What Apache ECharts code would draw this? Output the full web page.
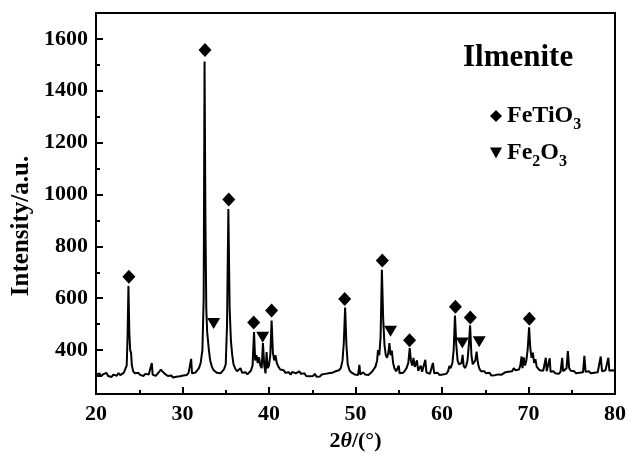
<!DOCTYPE html>
<html>
<head>
<meta charset="utf-8">
<script src="https://cdn.jsdelivr.net/npm/echarts@6/dist/echarts.min.js"></script>
<style>
	html, body { margin: 0; padding: 0; background: #fff; }
	#xrd_chart { width: 629px; height: 457px; }
</style>
</head>
<body>
<div id="xrd_chart"></div>
<script>
// diffraction pattern, [2theta, intensity]
var pattern = [
	[20.0,305],[20.2,300],[20.4,310],[20.6,298],[20.8,306],[21.0,302],[21.2,312],[21.4,300],[21.6,307],[21.8,296],
	[22.0,305],[22.2,309],[22.4,301],[22.6,311],[22.8,303],[23.0,308],[23.2,312],[23.4,318],[23.55,340],[23.65,450],
	[23.75,647],[23.85,470],[23.95,400],[24.05,390],[24.15,340],[24.3,318],[24.5,310],[24.7,306],[24.9,312],[25.1,304],
	[25.3,310],[25.5,300],[25.7,308],[25.9,302],[26.1,306],[26.3,303],[26.45,350],[26.55,305],[26.7,308],[26.9,300],
	[27.1,306],[27.3,316],[27.5,324],[27.7,318],[27.9,310],[28.1,304],[28.3,300],[28.5,296],[28.7,302],[28.9,294],
	[29.1,300],[29.3,297],[29.5,303],[29.7,299],[29.9,306],[30.1,302],[30.3,308],[30.5,304],[30.7,312],[30.9,306],
	[31.0,366],[31.1,310],[31.3,307],[31.5,313],[31.7,318],[31.9,330],[32.1,350],[32.3,400],[32.45,600],[32.55,1513],
	[32.65,900],[32.75,560],[32.85,470],[32.95,465],[33.05,400],[33.2,360],[33.4,335],[33.6,322],[33.8,318],[34.0,312],
	[34.2,316],[34.4,310],[34.6,318],[34.8,326],[35.0,345],[35.15,500],[35.3,944],[35.45,560],[35.6,434],[35.75,380],
	[35.9,345],[36.1,328],[36.3,318],[36.5,314],[36.7,330],[36.9,312],[37.1,308],[37.3,314],[37.5,306],[37.7,312],
	[37.9,320],[38.1,340],[38.27,469],[38.4,360],[38.55,380],[38.7,350],[38.85,372],[39.0,340],[39.15,330],[39.3,427],
	[39.45,340],[39.6,310],[39.72,392],[39.85,330],[40.0,340],[40.15,380],[40.3,514],[40.45,390],[40.6,360],[40.75,380],
	[40.9,350],[41.1,335],[41.3,325],[41.5,318],[41.7,322],[41.9,312],[42.1,308],[42.3,314],[42.5,305],[42.7,316],
	[42.9,322],[43.1,310],[43.3,304],[43.5,318],[43.7,308],[43.9,302],[44.1,310],[44.3,300],[44.5,306],[44.7,299],
	[44.9,305],[45.1,300],[45.3,308],[45.5,297],[45.7,304],[45.9,298],[46.1,306],[46.3,301],[46.5,308],[46.7,303],
	[46.9,310],[47.1,305],[47.3,312],[47.5,308],[47.7,318],[47.9,314],[48.1,322],[48.3,330],[48.5,360],[48.65,430],
	[48.8,564],[48.95,420],[49.1,345],[49.3,322],[49.5,314],[49.7,310],[49.9,306],[50.1,312],[50.3,304],[50.45,343],
	[50.55,306],[50.7,310],[50.9,314],[51.1,306],[51.3,312],[51.5,304],[51.7,310],[51.9,316],[52.1,320],[52.3,335],
	[52.5,360],[52.6,400],[52.75,380],[52.9,450],[53.05,710],[53.2,520],[53.35,420],[53.5,380],[53.65,370],[53.8,390],
	[53.92,427],[54.05,380],[54.2,398],[54.35,350],[54.5,330],[54.7,318],[54.9,312],[55.0,340],[55.1,310],[55.3,306],
	[55.5,312],[55.7,320],[55.9,330],[56.1,350],[56.27,407],[56.4,360],[56.55,340],[56.7,370],[56.85,335],[57.0,330],
	[57.1,360],[57.25,320],[57.4,326],[57.55,340],[57.7,316],[57.9,322],[58.07,362],[58.2,314],[58.4,318],[58.6,308],
	[58.8,315],[58.95,350],[59.1,310],[59.3,306],[59.5,312],[59.7,304],[59.9,310],[60.1,306],[60.3,312],[60.5,308],
	[60.7,318],[60.85,338],[61.0,330],[61.2,350],[61.35,400],[61.5,533],[61.65,420],[61.8,360],[61.95,345],[62.1,338],
	[62.25,350],[62.38,381],[62.5,340],[62.65,330],[62.8,340],[62.95,360],[63.1,420],[63.25,495],[63.4,380],[63.55,345],
	[63.7,340],[63.85,360],[64.0,394],[64.15,350],[64.3,330],[64.5,318],[64.7,312],[64.9,318],[65.1,310],[65.3,305],
	[65.5,312],[65.7,302],[65.9,309],[66.1,303],[66.3,310],[66.5,306],[66.7,312],[66.9,305],[67.1,309],[67.3,314],
	[67.5,310],[67.7,316],[67.9,320],[68.1,318],[68.3,330],[68.5,322],[68.7,318],[68.9,325],[69.05,340],[69.2,375],
	[69.3,330],[69.45,372],[69.6,340],[69.75,360],[69.9,400],[70.07,488],[70.2,410],[70.35,370],[70.5,390],[70.65,350],
	[70.8,365],[70.95,335],[71.1,328],[71.3,322],[71.5,316],[71.7,320],[71.85,318],[72.0,370],[72.1,318],[72.3,314],
	[72.45,368],[72.55,316],[72.7,312],[72.9,318],[73.1,310],[73.3,314],[73.5,308],[73.7,316],[73.9,370],[74.0,318],
	[74.2,312],[74.4,330],[74.55,396],[74.7,330],[74.9,320],[75.1,314],[75.3,318],[75.5,310],[75.7,316],[75.9,312],
	[76.1,318],[76.3,314],[76.46,378],[76.6,316],[76.8,312],[77.0,318],[77.2,310],[77.4,316],[77.6,312],[77.8,318],
	[78.0,314],[78.2,320],[78.35,375],[78.5,318],[78.7,314],[78.9,322],[79.1,318],[79.23,370],[79.35,320],[79.5,316],
	[79.7,322],[79.9,318],[80.0,320]
];

// phase markers
var fetio3Marks = [[23.8,683],[32.6,1557],[35.35,981],[38.23,506],[40.3,552],[48.75,597],[53.1,745],[56.25,438],[61.55,567],[63.27,525],[70.1,521]];
var fe2o3Marks = [[33.6,502],[39.27,449],[54.05,472],[62.35,427],[64.3,432]];

var yMajorTicks = [400, 600, 800, 1000, 1200, 1400, 1600];
var yMinorTicks = [300, 500, 700, 900, 1100, 1300, 1500];

var serif = '"Liberation Serif", "Times New Roman", serif';
var triangleDown = 'path://M0,0L10,0L5,9Z';

var myChart = echarts.init(document.getElementById('xrd_chart'));

var option = {
	animation: false,
	grid: {
		left: 96,
		right: 13,
		top: 13,
		bottom: 57,
		show: true,
		borderColor: '#000',
		borderWidth: 2
	},
	legend: {
		orient: 'vertical',
		left: 485,
		top: 99,
		itemWidth: 12,
		itemHeight: 12,
		itemGap: 8,
		itemStyle: { opacity: 1 },
		data: [
			{ name: 'FeTiO3', icon: 'diamond' },
			{ name: 'Fe2O3', icon: triangleDown }
		],
		formatter: function(name) {
			if (name == 'FeTiO3') return '{m|FeTiO}{s|3}';
			return '{m|Fe}{s|2}{m|O}{s|3}';
		},
		textStyle: {
			rich: {
				m: { fontFamily: serif, fontWeight: 'bold', fontSize: 24, lineHeight: 24, color: '#000', verticalAlign: 'top' },
				s: { fontFamily: serif, fontWeight: 'bold', fontSize: 16, lineHeight: 16, color: '#000', verticalAlign: 'top', padding: [13, 0, 0, 0] }
			}
		}
	},
	graphic: [
		{
			type: 'text',
			left: 463,
			top: 42,
			style: { text: 'Ilmenite', font: 'bold 31px ' + serif, fill: '#000' }
		},
		{
			type: 'text',
			x: 22,
			y: 226,
			rotation: Math.PI / 2,
			style: { text: 'Intensity/a.u.', font: 'bold 25px ' + serif, fill: '#000', align: 'center', verticalAlign: 'middle' }
		}
	],
	xAxis: {
		type: 'value',
		min: 20,
		max: 80,
		interval: 10,
		name: '2{i|θ}/(°)',
		nameLocation: 'middle',
		nameGap: 34,
		nameTextStyle: {
			fontFamily: serif,
			fontWeight: 'bold',
			fontSize: 22,
			color: '#000',
			rich: {
				i: { fontFamily: serif, fontWeight: 'bold', fontStyle: 'italic', fontSize: 22, color: '#000' }
			}
		},
		axisLine: { lineStyle: { color: '#000', width: 2 } },
		axisTick: { show: true, inside: true, length: 7, lineStyle: { color: '#000', width: 2 } },
		minorTick: { show: true, splitNumber: 2, length: 4, lineStyle: { color: '#000', width: 2 } },
		axisLabel: { margin: 9, fontFamily: serif, fontWeight: 'bold', fontSize: 22, color: '#000' },
		splitLine: { show: false }
	},
	yAxis: [
		{
			type: 'value',
			min: 230,
			max: 1700,
			axisLine: { show: true, lineStyle: { color: '#000', width: 2 } },
			axisTick: { show: true, inside: true, length: 7, customValues: yMajorTicks, lineStyle: { color: '#000', width: 2 } },
			axisLabel: {
				margin: 8,
				customValues: yMajorTicks,
				formatter: function(v) { return String(v); },
				fontFamily: serif,
				fontWeight: 'bold',
				fontSize: 22,
				color: '#000'
			},
			splitLine: { show: false }
		},
		{
			type: 'value',
			min: 230,
			max: 1700,
			position: 'left',
			offset: 0,
			axisLine: { show: false },
			axisTick: { show: true, inside: true, length: 4, customValues: yMinorTicks, lineStyle: { color: '#000', width: 2 } },
			axisLabel: { show: false },
			splitLine: { show: false }
		}
	],
	series: [
		{
			name: 'pattern',
			type: 'line',
			data: pattern,
			symbol: 'none',
			silent: true,
			lineStyle: { color: '#000', width: 2 }
		},
		{
			name: 'FeTiO3',
			type: 'scatter',
			data: fetio3Marks,
			symbol: 'diamond',
			symbolSize: [13, 14],
			itemStyle: { color: '#000', opacity: 1 }
		},
		{
			name: 'Fe2O3',
			type: 'scatter',
			data: fe2o3Marks,
			symbol: triangleDown,
			symbolSize: [13, 11],
			itemStyle: { color: '#000', opacity: 1 }
		}
	]
};

myChart.setOption(option);
</script>
</body>
</html>
